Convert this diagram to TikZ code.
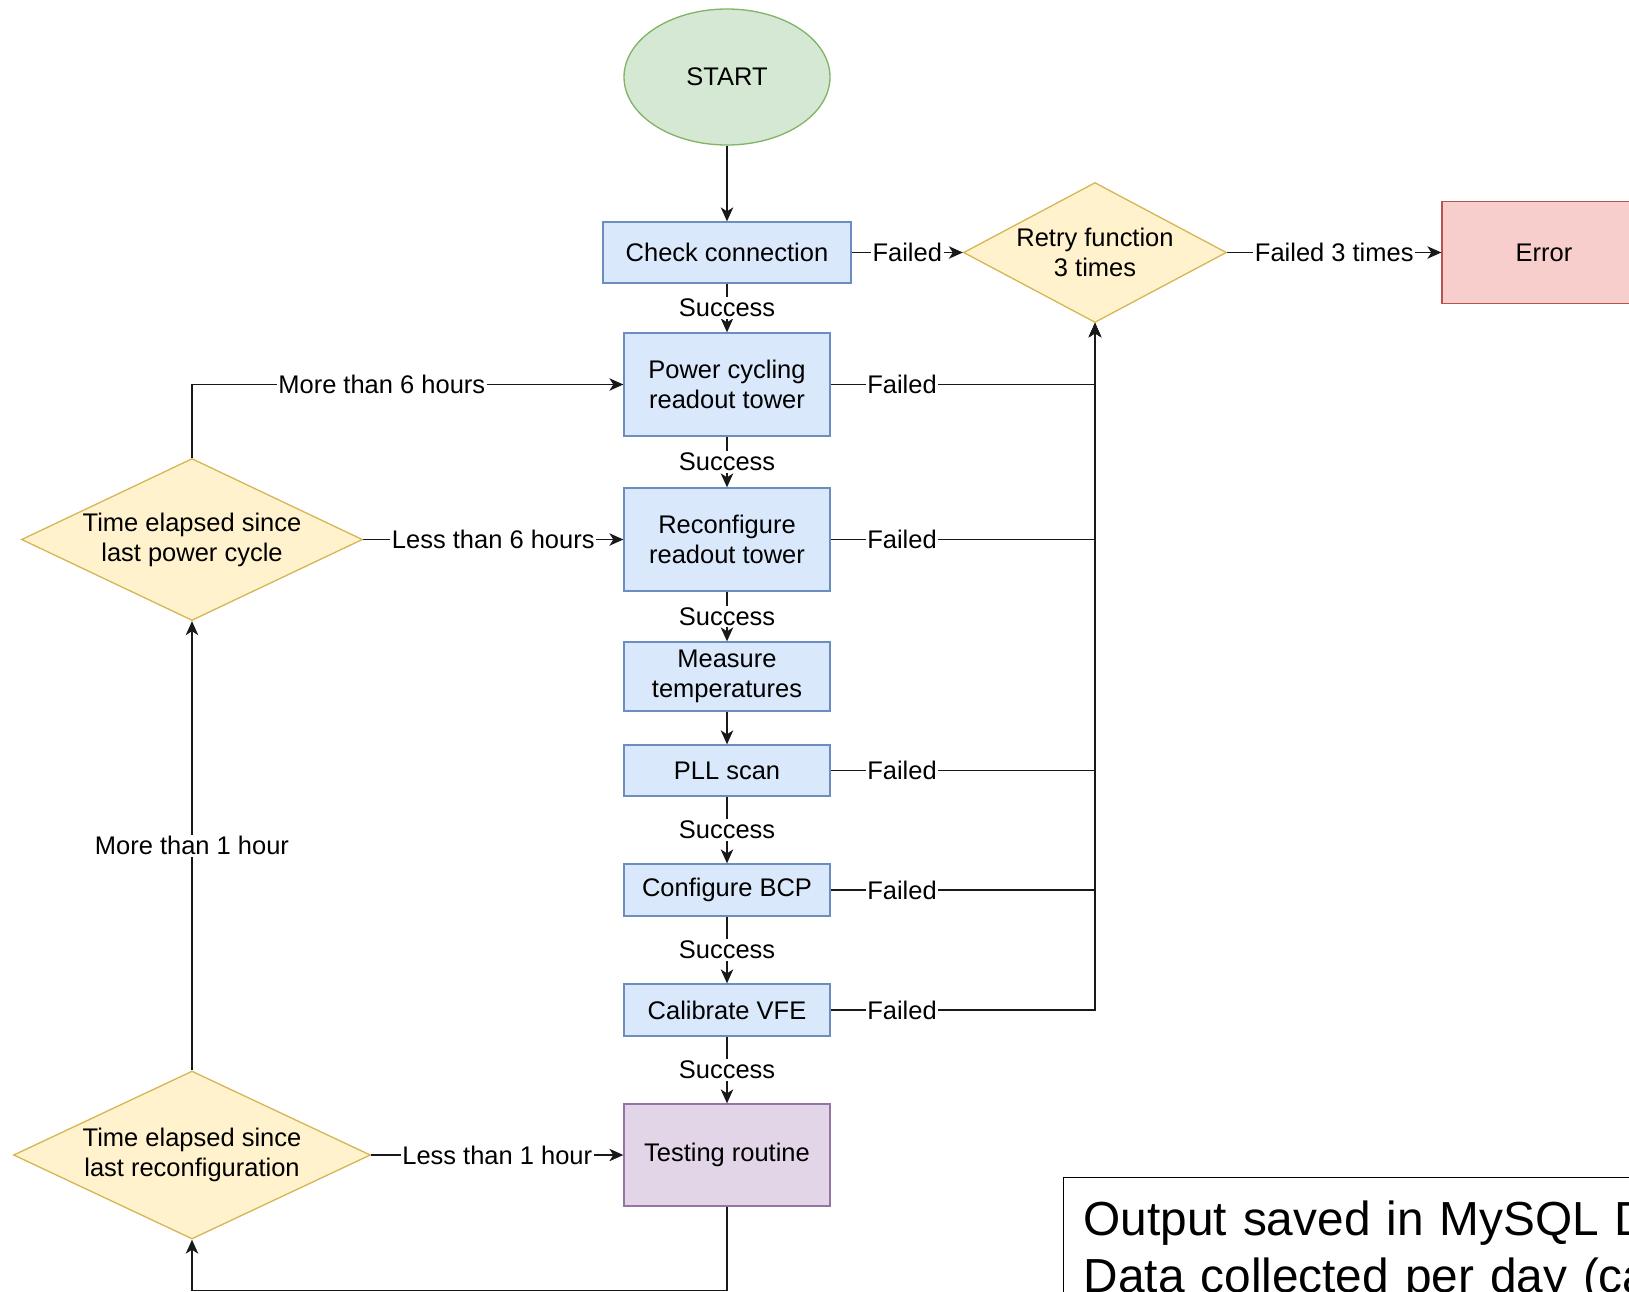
\documentclass[tikz,border=0pt]{standalone}
\usepackage{fontspec}
\setmainfont{Liberation Sans}
\usetikzlibrary{arrows.meta,positioning,shapes.geometric}
\definecolor{flowblue}{HTML}{DAE8FC}
\definecolor{flowblueline}{HTML}{6C8EBF}
\definecolor{flowyellow}{HTML}{FFF2CC}
\definecolor{flowyellowline}{HTML}{D6B656}
\definecolor{flowgreen}{HTML}{D5E8D4}
\definecolor{flowgreenline}{HTML}{82B366}
\definecolor{flowred}{HTML}{F8CECC}
\definecolor{flowredline}{HTML}{B85450}
\definecolor{flowpurple}{HTML}{E1D5E7}
\definecolor{flowpurpleline}{HTML}{9673A6}

\begin{document}
\begin{tikzpicture}[
  font=\fontsize{14.5}{17}\selectfont,
  box/.style={draw=flowblueline, fill=flowblue, line width=0.75pt, minimum width=4.12cm, minimum height=#1, align=center, inner sep=2pt},
  decision/.style={diamond, shape aspect=#1, draw=flowyellowline, fill=flowyellow, line width=0.75pt, align=center, inner sep=0pt},
  arr/.style={-{Stealth[length=0.28cm, width=0.25cm, inset=0.08cm]}, line width=0.75pt, black!90},
  lbl/.style={fill=white, inner sep=1pt, text=black}
]

\useasboundingbox (0,0) rectangle (32.58,-25.82);
\clip (0,0) rectangle (32.58,-25.82);

\node[ellipse, draw=flowgreenline, fill=flowgreen, line width=0.75pt, minimum width=4.12cm, minimum height=2.72cm] (start) at (14.54,-1.54) {START};
\node[box=1.22cm, minimum width=4.96cm] (check) at (14.54,-5.05) {Check connection};
\node[decision=1.88, minimum width=5.26cm, minimum height=2.8cm] (retry) at (21.9,-5.05) {Retry function\\3 times};
\node[draw=flowredline, fill=flowred, line width=0.75pt, minimum width=4.08cm, minimum height=2.04cm] (error) at (30.88,-5.05) {Error};
\node[box=2.06cm] (power) at (14.54,-7.69) {Power cycling\\readout tower};
\node[box=2.06cm] (reconf) at (14.54,-10.79) {Reconfigure\\readout tower};
\node[box=1.38cm] (measure) at (14.54,-13.53) {Measure\\temperatures};
\node[box=1.02cm] (pll) at (14.54,-15.41) {PLL scan};
\node[box=1.04cm] (bcp) at (14.54,-17.8) {Configure BCP};
\node[box=1.04cm] (vfe) at (14.54,-20.2) {Calibrate VFE};
\node[box=2.04cm, draw=flowpurpleline, fill=flowpurple] (test) at (14.54,-23.1) {Testing routine};
\node[decision=2.1, minimum width=6.82cm, minimum height=3.24cm] (powerdec) at (3.84,-10.79) {Time elapsed since\\last power cycle};
\node[decision=2.12, minimum width=7.14cm, minimum height=3.36cm] (reconfdec) at (3.84,-23.1) {Time elapsed since\\last reconfiguration};

% database note in the corner
\node[draw, line width=0.75pt, anchor=north west, text width=16cm, align=left, inner xsep=0.4cm, inner ysep=0.46cm, font=\fontsize{27.2}{32.4}\selectfont] (output) at (21.26,-23.54) {Output saved in MySQL Database\\Data collected per day (ca.};

\draw[arr] (start) -- (check);
\draw[arr] (check) -- node[lbl]{Failed} (retry);
\draw[arr] (retry) -- node[lbl]{Failed 3 times} (error);
\draw[arr] (check) -- node[lbl]{Success} (power);
\draw[arr] (power) -- node[lbl]{Success} (reconf);
\draw[arr] (reconf) -- node[lbl]{Success} (measure);
\draw[arr] (measure) -- (pll);
\draw[arr] (pll) -- node[lbl]{Success} (bcp);
\draw[arr] (bcp) -- node[lbl]{Success} (vfe);
\draw[arr] (vfe) -- node[lbl]{Success} (test);

% every failing step goes back to the retry check
\foreach \n in {power,reconf,pll,bcp,vfe}
  \draw[arr] (\n.east) -- node[lbl, pos=0.27]{Failed} (\n.east -| retry.south) -- (retry.south);

\draw[arr] (powerdec.north) |- node[lbl, pos=0.72]{More than 6 hours} (power.west);
\draw[arr] (powerdec) -- node[lbl]{Less than 6 hours} (reconf);
\draw[arr] (reconfdec) -- node[lbl]{More than 1 hour} (powerdec);
\draw[arr] (reconfdec) -- node[lbl]{Less than 1 hour} (test);
\draw[arr] (test.south) -- ++(0,-1.67) -| (reconfdec.south);

\end{tikzpicture}
\end{document}
